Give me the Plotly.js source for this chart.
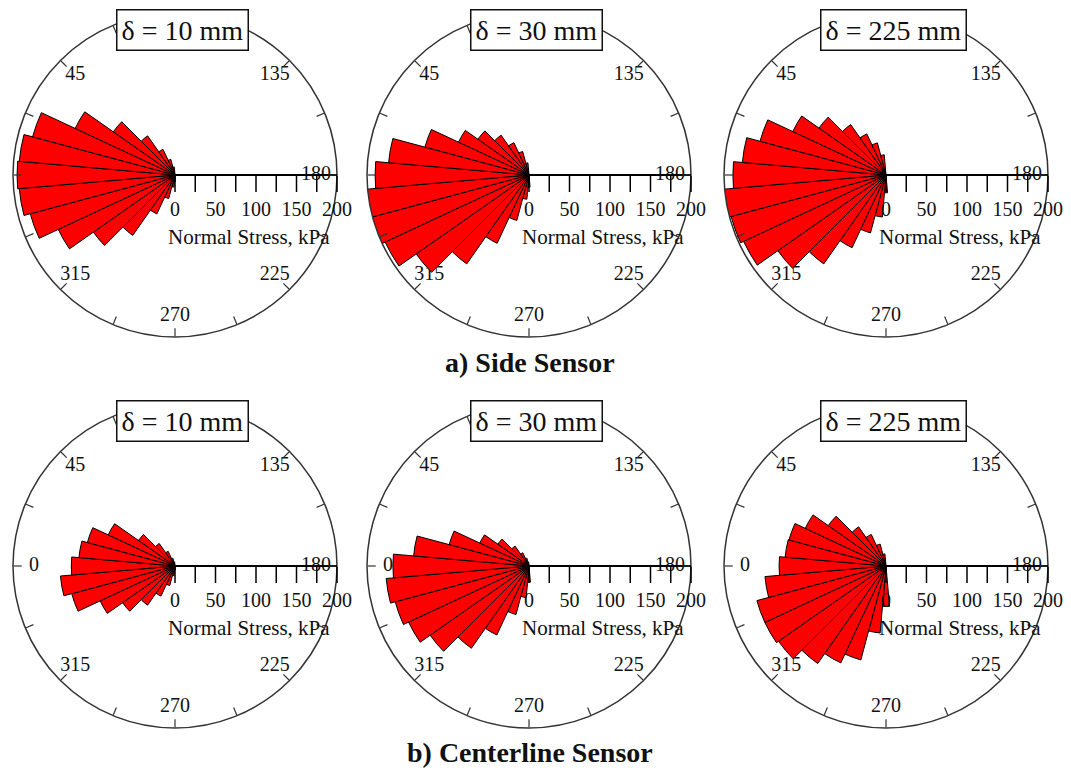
<!DOCTYPE html>
<html>
<head>
<meta charset="utf-8">
<script src="https://cdn.plot.ly/plotly-3.0.1.min.js"></script>
<style>html,body{margin:0;padding:0;background:#fff;}#chart{width:1071px;height:771px;}</style>
</head>
<body>
<div id="chart"></div>
<script>
// ---- data ----
// bin centre directions (deg): -90..80 expressed as 270..350, 0..80
const binAngles = [270, 280, 290, 300, 310, 320, 330, 340, 350, 0, 10, 20, 30, 40, 50, 60, 70, 80];

// Side sensor normal stress (kPa)
const side10  = [8, 15, 30, 53, 91, 123, 159, 185, 193, 195, 193, 182, 136, 93, 59, 35, 20, 10];
const side30  = [15, 30, 58, 93, 134, 170, 196, 203, 202, 190, 174, 133, 96, 77, 60, 44, 30, 15];
const side225 = [22, 52, 74, 99, 134, 163, 194, 198, 205, 189, 178, 161, 127, 101, 76, 56, 41, 25];

// Centerline sensor normal stress (kPa)
const center10  = [5, 12, 25, 41, 59, 79, 102, 132, 142, 128, 119, 112, 91, 55, 34, 20, 10, 5];
const center30  = [20, 39, 62, 94, 124, 149, 164, 171, 177, 168, 143, 102, 67, 47, 30, 18, 10, 5];
const center225 = [50, 83, 120, 132, 147, 162, 165, 165, 150, 132, 125, 124, 110, 87, 59, 43, 28, 15];

const displacements = [10, 30, 225]; // mm
const panelLabels = displacements.map(d => "\u03b4 = " + d + " mm");

const angularTickAngles = [0, 45, 135, 180, 225, 270, 315];
const angularTickText   = ["0", "45", "135", "180", "225", "270", "315"];

const radialTickVals = [0, 25, 50, 75, 100, 125, 150, 175, 200];
const radialTickText = ["0", "", "50", "", "100", "", "150", "", "200"];
const radialTitle = "Normal Stress, kPa";

const rowCaptions = ["a) Side Sensor", "b) Centerline Sensor"];
const rowSeries = [[side10, side30, side225], [center10, center30, center225]];

// ---- layout geometry (pixels) ----
const W = 1071, H = 771;
const centersX = [175, 529, 886];
const centersY = [175, 566];
const R = 162;
const LABEL_R = 174;
const FONT = "Liberation Serif, Times New Roman, serif";
const TEXT = "#111";

const labelTraces = [];
const barTraces = [];
const layout = {
  width: W, height: H,
  margin: {l: 0, r: 0, t: 0, b: 0},
  paper_bgcolor: "#fff",
  showlegend: false,
  font: {family: FONT, color: TEXT, size: 20},
  annotations: []
};

let k = 0;
for (let row = 0; row < 2; row++) {
  for (let col = 0; col < 3; col++) {
    k++;
    const cx = centersX[col], cy = centersY[row];
    const domain = {
      x: [(cx - R) / W, (cx + R) / W],
      y: [1 - (cy + R) / H, 1 - (cy - R) / H]
    };
    // underlying subplot carrying the angular tick labels (drawn beneath the bars)
    const lid = k === 1 ? "polar" : "polar" + k;
    // main subplot with bars and axes
    const mid = "polar" + (k + 6);

    layout[lid] = {
      domain: domain,
      bgcolor: "#fff",
      angularaxis: {rotation: 180, direction: "clockwise", visible: false},
      radialaxis: {range: [0, 200], visible: false}
    };
    layout[mid] = {
      domain: domain,
      bgcolor: "rgba(0,0,0,0)",
      angularaxis: {
        rotation: 180,
        direction: "clockwise",
        showgrid: false,
        showline: true,
        linecolor: "#333",
        linewidth: 1.5,
        ticks: "inside",
        ticklen: 8,
        tickwidth: 1.2,
        tickcolor: "#333",
        tickmode: "linear",
        tick0: 0,
        dtick: 22.5,
        showticklabels: false
      },
      radialaxis: {
        range: [0, 200],
        angle: 0,
        side: "clockwise",
        showgrid: false,
        showline: true,
        linecolor: "#000",
        linewidth: 2,
        ticks: "outside",
        ticklen: 16,
        tickwidth: 1.5,
        tickcolor: "#000",
        tickmode: "array",
        tickvals: radialTickVals,
        ticktext: radialTickText,
        tickangle: 0,
        tickfont: {family: FONT, size: 20, color: TEXT}
      }
    };

    labelTraces.push({
      type: "scatterpolar",
      subplot: lid,
      mode: "text",
      r: angularTickAngles.map(() => LABEL_R),
      theta: angularTickAngles,
      text: angularTickText,
      textfont: {family: FONT, size: 20, color: TEXT},
      hoverinfo: "skip",
      cliponaxis: false
    });

    barTraces.push({
      type: "barpolar",
      subplot: mid,
      r: rowSeries[row][col],
      theta: binAngles,
      width: 10,
      marker: {color: "#ff0000", line: {color: "#000", width: 1}},
      hoverinfo: "r+theta"
    });

    // panel label box
    layout.annotations.push({
      xref: "paper", yref: "paper",
      x: (cx + 7) / W, y: 1 - (cy - 145) / H,
      xanchor: "center", yanchor: "middle",
      text: panelLabels[col],
      showarrow: false,
      font: {family: FONT, size: 28, color: TEXT},
      bgcolor: "#fff",
      bordercolor: "#111",
      borderwidth: 1.5,
      borderpad: 4
    });

    // radial axis title, centred under the radial axis
    layout.annotations.push({
      xref: "paper", yref: "paper",
      x: (cx + 74) / W, y: 1 - (cy + 62) / H,
      xanchor: "center", yanchor: "middle",
      text: radialTitle,
      showarrow: false,
      font: {family: FONT, size: 21, color: TEXT}
    });
  }
}

const captionY = [362, 752];
rowCaptions.forEach((t, i) => {
  layout.annotations.push({
    xref: "paper", yref: "paper",
    x: 530 / W, y: 1 - captionY[i] / H,
    xanchor: "center", yanchor: "middle",
    text: "<b>" + t + "</b>",
    showarrow: false,
    font: {family: FONT, size: 28, color: TEXT}
  });
});

Plotly.newPlot("chart", labelTraces.concat(barTraces), layout, {displayModeBar: false, staticPlot: true});
</script>
</body>
</html>
